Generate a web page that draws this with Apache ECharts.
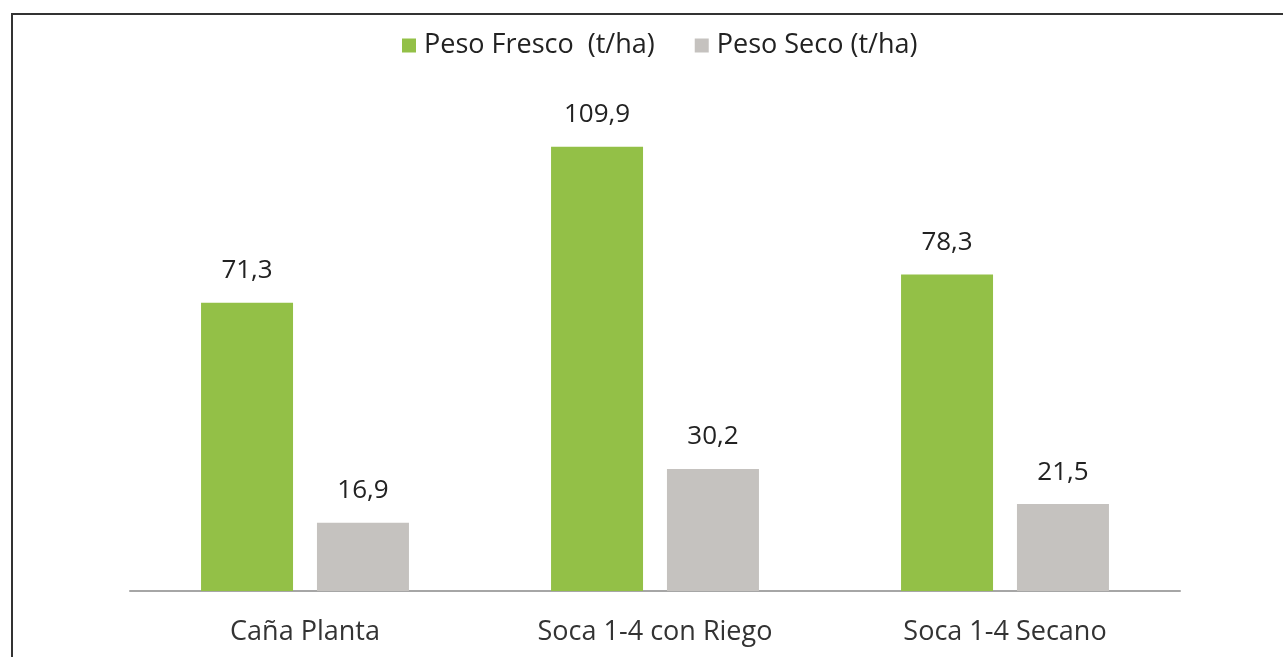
<!DOCTYPE html>
<html>
<head>
<meta charset="utf-8">
<script src="https://cdn.jsdelivr.net/npm/echarts@6/dist/echarts.min.js"></script>
<style>
  html, body { margin: 0; padding: 0; background: #fff; }
  #chart { width: 1283px; height: 657px; }
</style>
</head>
<body>
<div id="chart"></div>
<script>
var categories = ['Caña Planta', 'Soca 1-4 con Riego', 'Soca 1-4 Secano'];
var seriesNames = ['Peso Fresco  (t/ha)', 'Peso Seco (t/ha)'];
var pesoFresco = [71.3, 109.9, 78.3];
var pesoSeco = [16.9, 30.2, 21.5];

var font = 'Open Sans';
function fmt(p) {
    return p.value.toFixed(1).replace('.', ',');
}

var chart = echarts.init(document.getElementById('chart'));
chart.setOption({
    animation: false,
    textStyle: { fontFamily: font },
    legend: {
        top: 27,
        left: 397,
        itemWidth: 14,
        itemHeight: 14,
        itemGap: 40,
        icon: 'rect',
        textStyle: { fontSize: 27, color: '#222', fontFamily: font, padding: [0, 0, 0, 3] },
        data: seriesNames
    },
    graphic: [
        { type: 'line', shape: { x1: 11, y1: 14, x2: 1283, y2: 14 }, style: { stroke: '#333', lineWidth: 2 } },
        { type: 'line', shape: { x1: 12, y1: 14, x2: 12, y2: 657 }, style: { stroke: '#333', lineWidth: 2 } }
    ],
    grid: { left: 130, right: 103, top: 106, bottom: 66 },
    xAxis: {
        type: 'category',
        data: categories,
        axisTick: { show: false },
        axisLine: { lineStyle: { color: '#a6a6a6', width: 2 } },
        axisLabel: { fontSize: 27, color: '#333', margin: 28, fontFamily: font }
    },
    yAxis: {
        type: 'value',
        min: 0,
        max: 120,
        show: false,
        splitLine: { show: false }
    },
    series: [
        {
            name: seriesNames[0],
            type: 'bar',
            data: pesoFresco,
            barWidth: 92,
            barGap: '26%',
            itemStyle: { color: '#93c047' },
            label: { show: true, position: 'top', distance: 19, fontSize: 26, color: '#222', formatter: fmt }
        },
        {
            name: seriesNames[1],
            type: 'bar',
            data: pesoSeco,
            barWidth: 92,
            itemStyle: { color: '#c5c2bf' },
            label: { show: true, position: 'top', distance: 19, fontSize: 26, color: '#222', formatter: fmt }
        }
    ]
});
</script>
</body>
</html>
